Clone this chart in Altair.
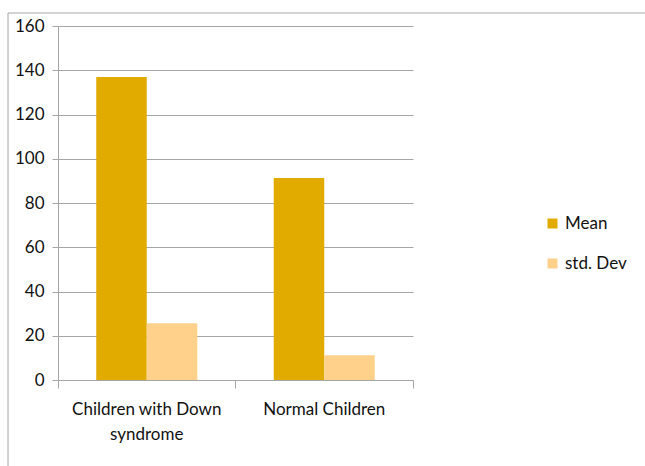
import altair as alt
import pandas as pd

groups = ["Children with Down syndrome", "Normal Children"]
series = ["Mean", "std. Dev"]
mean_values = [137, 91.3]
sd_values = [25.6, 11.2]
colors = ["#E2AB00", "#FFD18B"]
y_ticks = [0, 20, 40, 60, 80, 100, 120, 140, 160]

rows = []
for g, m, s in zip(groups, mean_values, sd_values):
    rows.append({"group": g, "series": series[0], "value": m})
    rows.append({"group": g, "series": series[1], "value": s})
df = pd.DataFrame(rows)

FONT = "Lato"
FS = 17
TXT = "#111111"
GRID = "#A6A6A6"
W, H = 355, 354

bars = alt.Chart(df).mark_bar().encode(
    x=alt.X(
        "group:N", sort=groups, title=None,
        scale=alt.Scale(paddingInner=0, paddingOuter=0),
        axis=alt.Axis(
            bandPosition=1, tickExtra=True, labelOffset=0,
            labelAngle=0, labelFont=FONT, labelFontSize=FS, labelColor=TXT,
            labelLimit=300, labelPadding=13, labelLineHeight=25,
            labelBaseline="top",
            labelExpr="datum.label == 'Children with Down syndrome' ? ['Children with Down', 'syndrome'] : datum.label",
            tickSize=8, tickColor=GRID, domainColor=GRID, grid=False,
        ),
    ),
    xOffset=alt.XOffset(
        "series:N", sort=series,
        scale=alt.Scale(paddingInner=0, paddingOuter=0.757),
    ),
    y=alt.Y(
        "value:Q", title=None,
        scale=alt.Scale(domain=[0, 160], nice=False, zero=True),
        axis=alt.Axis(
            values=y_ticks, labelFont=FONT, labelFontSize=FS, labelColor=TXT,
            labelPadding=8, tickSize=6, tickColor=GRID, domainColor=GRID,
            grid=True, gridColor=GRID, gridWidth=1,
        ),
    ),
    color=alt.Color(
        "series:N", sort=series,
        scale=alt.Scale(domain=series, range=colors),
        legend=alt.Legend(
            title=None, orient="none", legendX=486, legendY=189,
            symbolType="square", symbolSize=100, symbolStrokeWidth=0,
            labelFont=FONT, labelFontSize=FS, labelColor=TXT,
            labelOffset=4, rowPadding=22, padding=0,
        ),
    ),
)

frame_data = alt.Data(values=[{"k": 1}])
frame_top = alt.Chart(frame_data).mark_rule(color=GRID, strokeWidth=1).encode(
    x=alt.value(-50), x2=alt.value(700), y=alt.value(-13)
)
frame_left = alt.Chart(frame_data).mark_rule(color=GRID, strokeWidth=1).encode(
    x=alt.value(-50), y=alt.value(-13), y2=alt.value(500)
)

chart = alt.layer(frame_top, frame_left, bars).properties(
    width=W, height=H,
    autosize=alt.AutoSizeParams(type="none"),
    padding={"left": 58, "top": 26, "right": 232, "bottom": 86},
    background="white",
).configure_view(stroke=None)

chart.save("out.html", embed_options={"renderer": "svg", "actions": False})
